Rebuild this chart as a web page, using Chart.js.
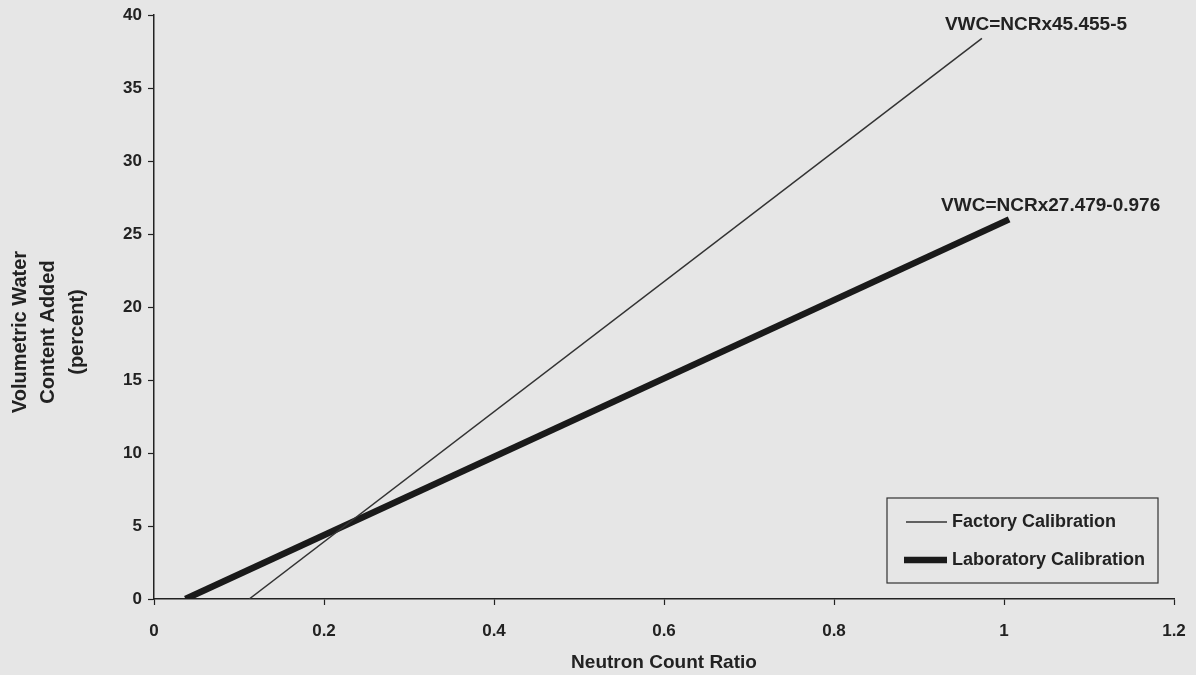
<!DOCTYPE html>
<html>
<head>
<meta charset="utf-8">
<script src="https://cdn.jsdelivr.net/npm/chart.js@4/dist/chart.umd.min.js"></script>
<style>
  html, body { margin: 0; padding: 0; background: #e6e6e6; }
  #wrap { width: 1196px; height: 675px; }
</style>
</head>
<body>
<div id="wrap"><canvas id="canvas" width="1196" height="675"></canvas></div>
<script>
// values
const seriesNames = ['Factory Calibration', 'Laboratory Calibration'];
const factoryX = [0.112, 0.974];
const factoryY = [0, 38.4];
const labX = [0.037, 1.006];
const labY = [0, 26.0];
const equations = ['VWC=NCRx45.455-5', 'VWC=NCRx27.479-0.976'];

const xTicks = ['0', '0.2', '0.4', '0.6', '0.8', '1', '1.2'];
const yTicks = ['0', '5', '10', '15', '20', '25', '30', '35', '40'];
const xTitle = 'Neutron Count Ratio';
const yTitle = ['Volumetric Water', 'Content Added', '(percent)'];

const ink = '#222';
const fontFam = '"Liberation Sans", Arial, sans-serif';

function pts(xs, ys) {
    return xs.map((x, i) => ({ x: x, y: ys[i] }));
}

// тексты, легенда и подписи рисуем сами
const extras = {
    id: 'extras',
    afterDraw(chart) {
        const ctx = chart.ctx;
        const xs = chart.scales.x, ys = chart.scales.y;
        const area = chart.chartArea;
        ctx.save();
        ctx.fillStyle = ink;

        // подписи уравнений у концов линий
        ctx.font = 'bold 19px ' + fontFam;
        ctx.textBaseline = 'middle';
        ctx.textAlign = 'left';
        const e1x = xs.getPixelForValue(factoryX[1]), e1y = ys.getPixelForValue(factoryY[1]);
        ctx.fillText(equations[0], e1x - 37, e1y - 14);
        const e2x = xs.getPixelForValue(labX[1]), e2y = ys.getPixelForValue(labY[1]);
        ctx.fillText(equations[1], e2x - 68, e2y - 14);

        // подпись оси X
        ctx.font = 'bold 19px ' + fontFam;
        ctx.textAlign = 'center';
        ctx.fillText(xTitle, (area.left + area.right) / 2, 663);

        // подпись оси Y (три строки, повернуто)
        ctx.save();
        ctx.translate(0, 332);
        ctx.rotate(-Math.PI / 2);
        ctx.font = 'bold 20px ' + fontFam;
        const colX = [20, 48, 77];
        yTitle.forEach((t, i) => ctx.fillText(t, 0, colX[i]));
        ctx.restore();

        // легенда в рамке
        const bw = 271, bh = 85;
        const bx = area.right - 16 - bw, by = area.bottom - 16 - bh;
        ctx.strokeStyle = '#333';
        ctx.lineWidth = 1.2;
        ctx.strokeRect(bx, by, bw, bh);
        ctx.font = 'bold 18px ' + fontFam;
        ctx.textAlign = 'left';
        chart.data.datasets.forEach((ds, i) => {
            const ly = by + 24 + i * 38;
            ctx.strokeStyle = ds.borderColor;
            ctx.lineWidth = ds.borderWidth;
            ctx.beginPath();
            ctx.moveTo(bx + 19 - i * 2, ly);
            ctx.lineTo(bx + 60, ly);
            ctx.stroke();
            ctx.fillText(ds.label, bx + 65, ly);
        });
        ctx.restore();
    }
};

const ctx = document.getElementById('canvas').getContext('2d');
new Chart(ctx, {
    type: 'scatter',
    data: {
        datasets: [{
            label: seriesNames[0],
            data: pts(factoryX, factoryY),
            showLine: true,
            borderColor: '#333',
            borderWidth: 1.5,
            pointRadius: 0
        }, {
            label: seriesNames[1],
            data: pts(labX, labY),
            showLine: true,
            borderColor: '#1a1a1a',
            borderWidth: 6.5,
            pointRadius: 0
        }]
    },
    plugins: [extras],
    options: {
        responsive: false,
        animation: false,
        layout: { padding: { left: 0, top: 15, right: 22, bottom: 0 } },
        plugins: {
            legend: { display: false },
            tooltip: { enabled: false }
        },
        scales: {
            x: {
                type: 'linear',
                min: 0, max: 1.2,
                afterFit(s) { s.height = 76; s.paddingLeft = 0; s.paddingRight = 0; },
                afterBuildTicks(s) { s.ticks = xTicks.map(v => ({ value: parseFloat(v) })); },
                ticks: {
                    callback: (v, i) => xTicks[i],
                    color: ink,
                    font: { family: fontFam, size: 17, weight: 'bold' },
                    padding: 16,
                    maxRotation: 0
                },
                grid: { drawOnChartArea: false, tickLength: 6, color: ink, tickWidth: 1.2 },
                border: { color: ink, width: 1.5 }
            },
            y: {
                type: 'linear',
                min: 0, max: 40,
                afterFit(s) { s.width = 154; s.paddingTop = 0; s.paddingBottom = 0; },
                afterBuildTicks(s) { s.ticks = yTicks.map(v => ({ value: parseFloat(v) })); },
                ticks: {
                    callback: (v, i) => yTicks[i],
                    color: ink,
                    font: { family: fontFam, size: 17, weight: 'bold' },
                    padding: 6
                },
                grid: { drawOnChartArea: false, tickLength: 6, color: ink, tickWidth: 1.2 },
                border: { color: ink, width: 1.5 }
            }
        }
    }
});
</script>
</body>
</html>
